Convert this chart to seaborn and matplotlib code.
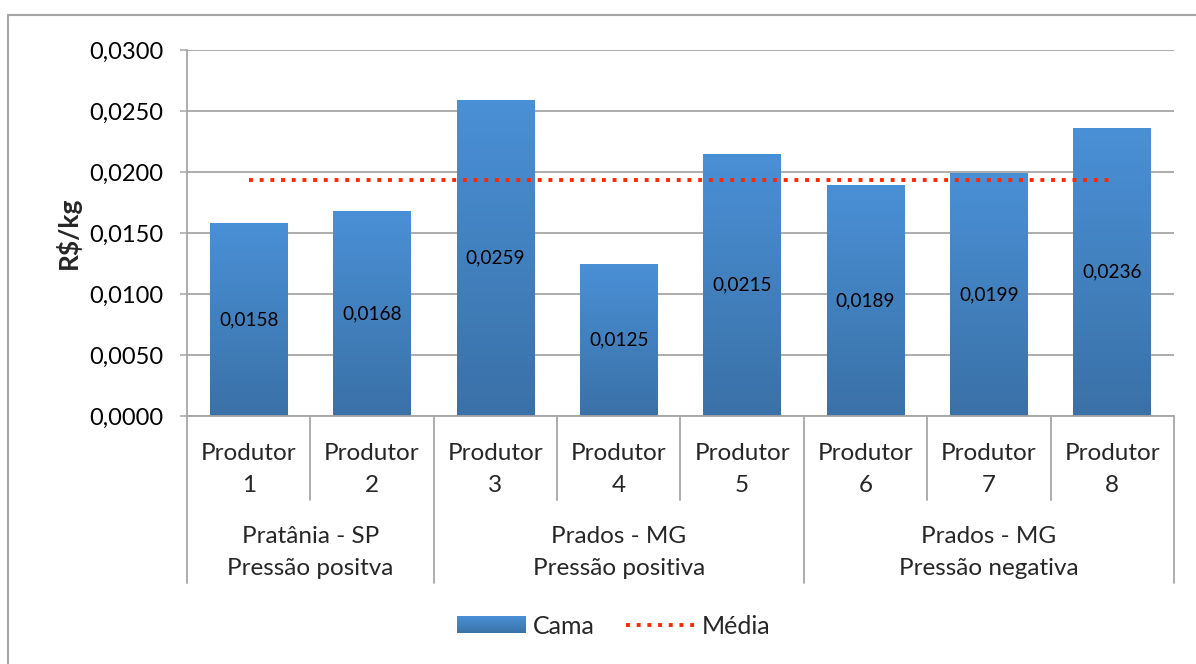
import numpy as np
import pandas as pd
import matplotlib
matplotlib.use("Agg")
import matplotlib.pyplot as plt
import matplotlib.transforms as mtransforms
from matplotlib.colors import LinearSegmentedColormap, to_rgb
from matplotlib.lines import Line2D
from matplotlib.patches import Rectangle
from matplotlib.legend_handler import HandlerBase
import seaborn as sns

# ---- data ----
produtores = ["Produtor\n1", "Produtor\n2", "Produtor\n3", "Produtor\n4",
              "Produtor\n5", "Produtor\n6", "Produtor\n7", "Produtor\n8"]
custo_cama = [0.0158, 0.0168, 0.0259, 0.0125, 0.0215, 0.0189, 0.0199, 0.0236]
grupos = ["Pratânia - SP\nPressão positva",
          "Prados - MG\nPressão positiva",
          "Prados - MG\nPressão negativa"]
grupo_tamanhos = [2, 3, 3]
y_ticks = [0.0, 0.005, 0.010, 0.015, 0.020, 0.025, 0.030]

media = float(np.mean(custo_cama))

df = pd.DataFrame({"produtor": produtores, "custo": custo_cama})

sns.set_theme(style="white")
plt.rcParams["font.family"] = ["Lato", "DejaVu Sans"]

W, H = 1196, 664
fig = plt.figure(figsize=(W / 100, H / 100), dpi=100)
ax_w, ax_h = 1174 - 187, 416 - 50
ax = fig.add_axes([187 / W, 1 - 416 / H, ax_w / W, ax_h / H])

grid_col = "#a6a6a6"
top_col = "#4a90d6"
bot_col = "#3a71a7"
red = "#ff2600"
dotted = (0, (1.0, 1.75))

sns.barplot(data=df, x="produtor", y="custo", color=top_col, width=0.63,
            ax=ax, zorder=2, saturation=1)

# vertical gradient on every bar
cmap = LinearSegmentedColormap.from_list("cama", [bot_col, top_col])
grad = np.linspace(0, 1, 256).reshape(-1, 1)
for patch in ax.patches:
    x0, y0 = patch.get_x(), patch.get_y()
    w, h = patch.get_width(), patch.get_height()
    im = ax.imshow(grad, cmap=cmap, origin="lower", aspect="auto",
                   extent=[x0, x0 + w, y0, y0 + h], zorder=2.5,
                   interpolation="bilinear")
    im.set_clip_path(patch)
    patch.set_alpha(0)
    ax.text(x0 + w / 2, y0 + h / 2, f"{h:.4f}".replace(".", ","),
            ha="center", va="center", fontsize=13.7, color="black", zorder=4)

# mean line
ax.plot([0, len(custo_cama) - 1], [media, media], color=red, lw=2.8,
        linestyle=dotted, dash_capstyle="butt", zorder=3)

ax.set_xlim(-0.5, len(produtores) - 0.5)
ax.set_ylim(0, 0.030)
ax.set_yticks(y_ticks)
ax.set_yticklabels([f"{v:.4f}".replace(".", ",") for v in y_ticks])
ax.yaxis.grid(True, color=grid_col, lw=1.3, zorder=0)
ax.set_axisbelow(True)
ax.tick_params(axis="y", left=True, length=5, width=1.1, color=grid_col,
               pad=12, labelsize=17, labelcolor="black")
ax.set_xticks([])
ax.set_xlabel("")
ax.set_ylabel("R$/kg", fontsize=19, fontweight="bold")
ax.yaxis.set_label_coords((68 - 187) / ax_w, 0.5)
ax.yaxis.label.set_va("center")
for side in ["top", "right"]:
    ax.spines[side].set_visible(False)
for side in ["left", "bottom"]:
    ax.spines[side].set_color(grid_col)
    ax.spines[side].set_linewidth(1.3)

# multi-level category axis
trans = mtransforms.blended_transform_factory(ax.transData, ax.transAxes)
inner_depth = -84 / ax_h
group_depth = -167 / ax_h
boundaries = np.cumsum([0] + grupo_tamanhos) - 0.5
for i in range(len(produtores) + 1):
    xb = i - 0.5
    depth = group_depth if np.any(np.isclose(boundaries, xb)) else inner_depth
    ax.add_line(Line2D([xb, xb], [0, depth], transform=trans, color=grid_col,
                       lw=1.3, clip_on=False))


def two_line_label(xc, text, baselines):
    for line, base in zip(text.split("\n"), baselines):
        ax.text(xc, -(base - 416) / ax_h, line, transform=trans,
                ha="center", va="baseline", fontsize=17.5)


for i, lab in enumerate(produtores):
    two_line_label(i, lab, (460, 492))
for g, lab in enumerate(grupos):
    center = (boundaries[g] + boundaries[g + 1]) / 2
    two_line_label(center, lab, (543, 575))


# legend with a gradient swatch
class GradientHandler(HandlerBase):
    def create_artists(self, legend, orig_handle, xdescent, ydescent,
                       width, height, fontsize, trans):
        n = 20
        c0, c1 = np.array(to_rgb(bot_col)), np.array(to_rgb(top_col))
        arts = []
        for k in range(n):
            c = c0 + (c1 - c0) * (k + 0.5) / n
            r = Rectangle((-xdescent, -ydescent + height * k / n), width,
                          height / n + 0.3, facecolor=c, edgecolor="none",
                          transform=trans)
            arts.append(r)
        return arts


cama_handle = Rectangle((0, 0), 1, 1, facecolor=top_col)
media_handle = Line2D([], [], color=red, lw=2.8, linestyle=dotted)
fig.legend([cama_handle, media_handle], ["Cama", "Média"],
           handler_map={Rectangle: GradientHandler()},
           loc="center", bbox_to_anchor=(614 / W, 1 - 626 / H), ncol=2,
           frameon=False, fontsize=18, handlelength=2.76, handleheight=0.64,
           handletextpad=0.28, columnspacing=1.25)

# outer frame
fig.add_artist(Line2D([8 / W, 8 / W], [0, 1 - 15 / H], transform=fig.transFigure,
                      color=grid_col, lw=1.5))
fig.add_artist(Line2D([8 / W, 1], [1 - 15 / H, 1 - 15 / H],
                      transform=fig.transFigure, color=grid_col, lw=1.5))

fig.savefig("out.png", dpi=100)
